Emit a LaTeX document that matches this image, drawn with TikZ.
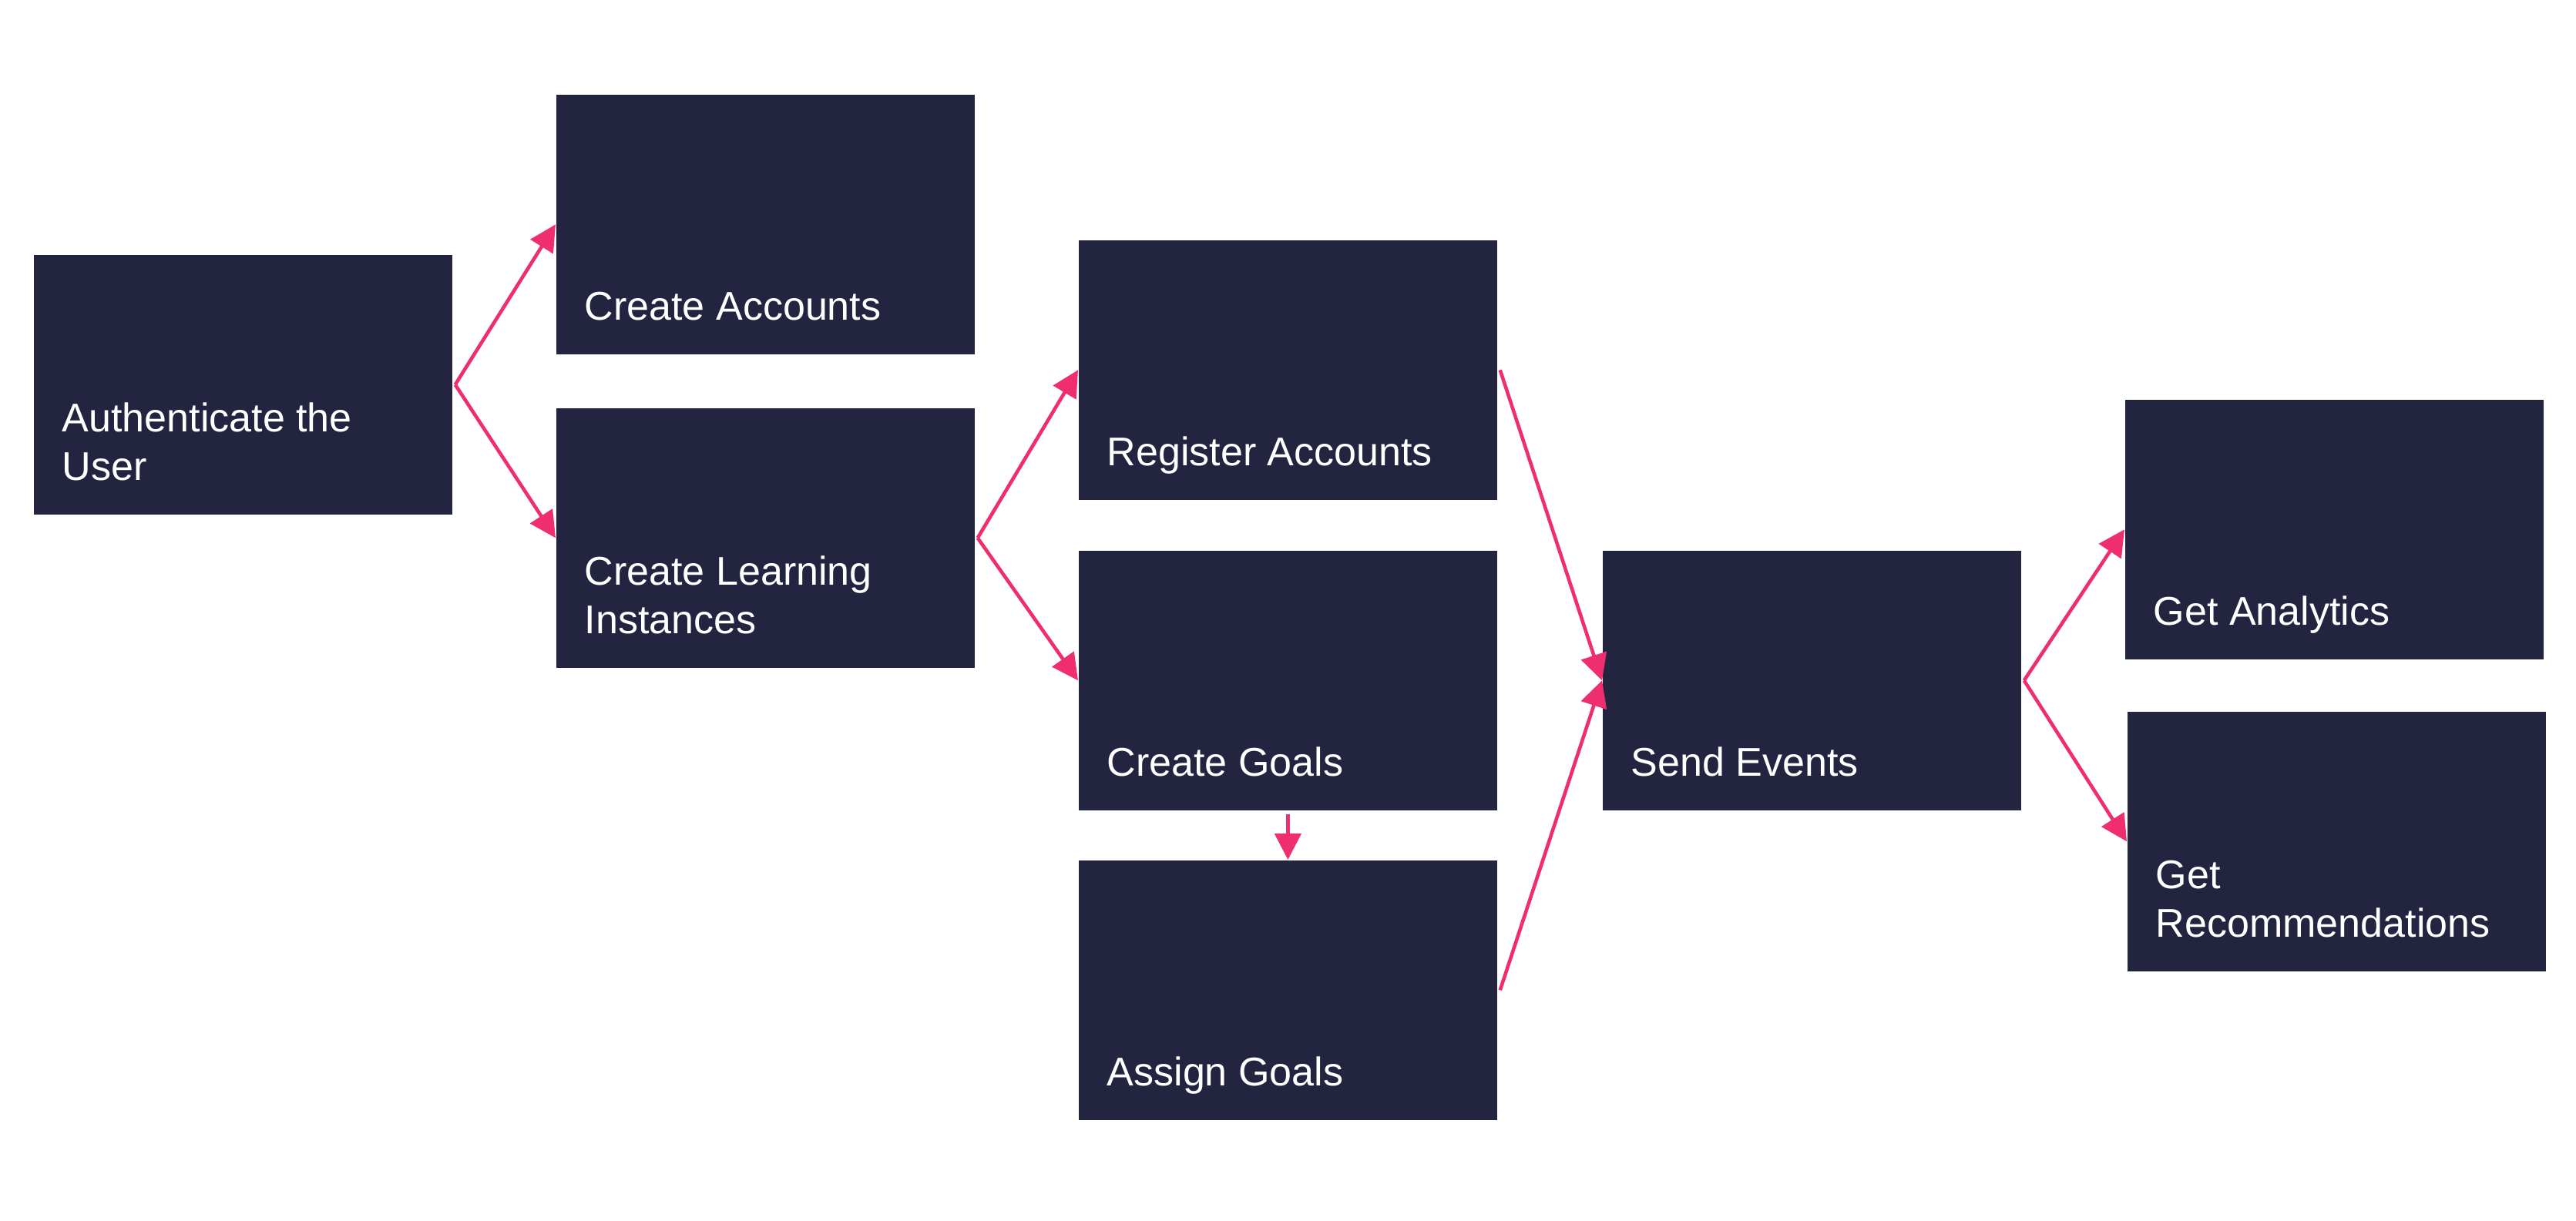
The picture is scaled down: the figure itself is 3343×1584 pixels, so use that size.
\documentclass[tikz,border=0pt]{standalone}
\usepackage{fontspec}
\setmainfont{Liberation Sans}
\usetikzlibrary{arrows.meta,calc}
\definecolor{navy}{RGB}{34,36,64}
\definecolor{pinkc}{RGB}{238,46,110}
\begin{document}
\begin{tikzpicture}[x=0.01cm,y=-0.01cm,
  box/.style={fill=navy, draw=none, minimum width=5.43cm, minimum height=3.37cm, anchor=north west, inner sep=0pt},
  lbl/.style={text=white, font=\fontsize{14.8pt}{17.9pt}\selectfont, align=left, anchor=base west, inner sep=0pt},
  conn/.style={draw=pinkc, line width=1.3pt, -{Triangle[length=0.34cm,width=0.34cm]}}]
\fill[white] (0,0) rectangle (3343,1584);
\useasboundingbox (0,0) rectangle (3343,1584);

\node[box] (auth) at (43,330) {};
\node[box] (ca) at (721,122) {};
\node[box] (cl) at (721,529) {};
\node[box] (ra) at (1399,311) {};
\node[box] (cg) at (1399,714) {};
\node[box] (ag) at (1399,1116) {};
\node[box] (se) at (2079,714) {};
\node[box] (ga) at (2757,518) {};
\node[box] (gr) at (2760,923) {};

\node[lbl] (tauth) at ($(auth.south west)+(37,-45)$) {Authenticate the\\User};
\node[lbl] (tca) at ($(ca.south west)+(37,-45)$) {Create Accounts};
\node[lbl] (tcl) at ($(cl.south west)+(37,-45)$) {Create Learning\\Instances};
\node[lbl] (tra) at ($(ra.south west)+(37,-45)$) {Register Accounts};
\node[lbl] (tcg) at ($(cg.south west)+(37,-45)$) {Create Goals};
\node[lbl] (tag) at ($(ag.south west)+(37,-45)$) {Assign Goals};
\node[lbl] (tse) at ($(se.south west)+(37,-45)$) {Send Events};
\node[lbl] (tga) at ($(ga.south west)+(37,-45)$) {Get Analytics};
\node[lbl] (tgr) at ($(gr.south west)+(37,-45)$) {Get\\Recommendations};

\coordinate (authout) at ($(auth.east)+(3,0)$);
\coordinate (clout) at ($(cl.east)+(3,0)$);
\coordinate (raout) at ($(ra.east)+(3,0)$);
\coordinate (agout) at ($(ag.east)+(3,0)$);
\coordinate (seout) at ($(se.east)+(3,0)$);
\coordinate (cgout) at ($(cg.south)+(0,4)$);

\draw[conn] (authout) -- (ca.west);
\draw[conn] (authout) -- (cl.west);
\draw[conn] (clout) -- (ra.west);
\draw[conn] (clout) -- (cg.west);
\draw[conn] (raout) -- (se.west);
\draw[conn] (agout) -- (se.west);
\draw[conn] (cgout) -- (ag.north);
\draw[conn] (seout) -- (ga.west);
\draw[conn] (seout) -- (gr.west);
\end{tikzpicture}
\end{document}
